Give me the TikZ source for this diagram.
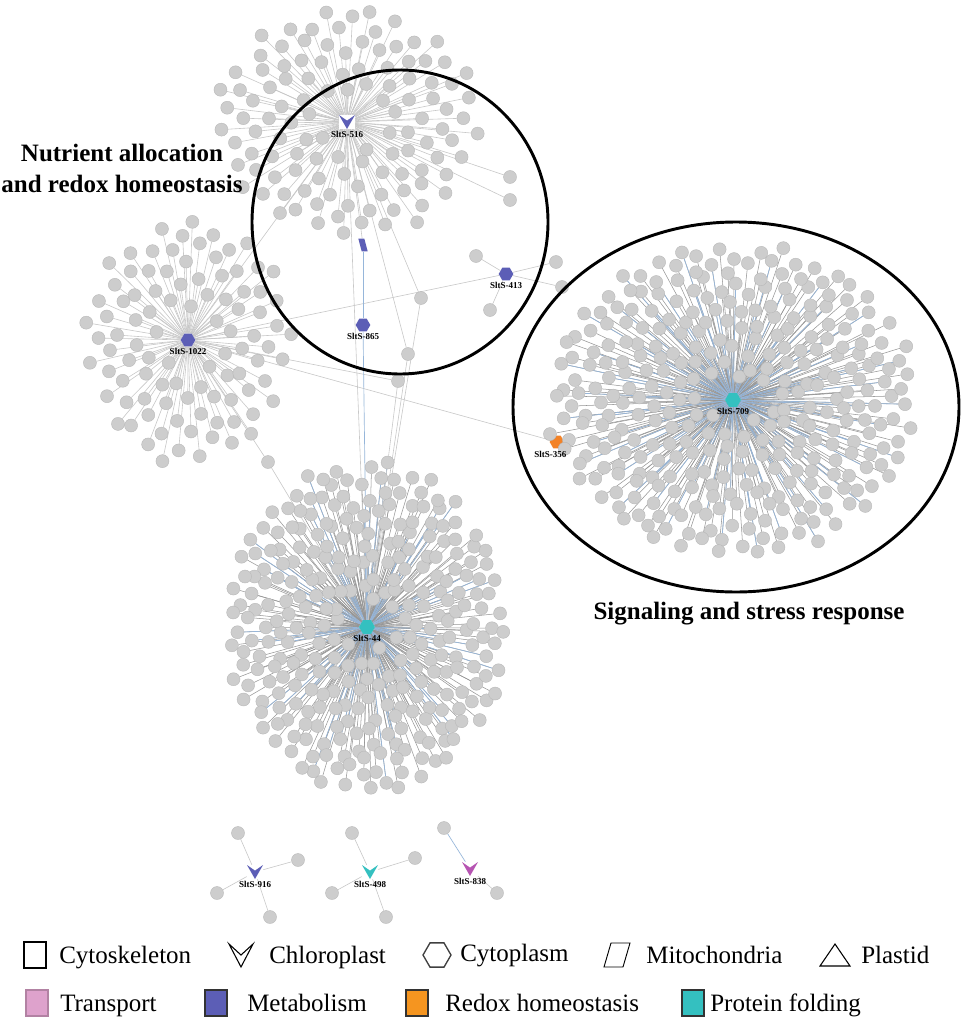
\documentclass[tikz,border=0pt]{standalone}
\usepackage{fontspec}
\setmainfont{Liberation Serif}
\usetikzlibrary{shapes.geometric,positioning,calc,backgrounds}

\definecolor{gnodefill}{RGB}{205,205,205}
\definecolor{gnodeline}{RGB}{184,184,184}
\definecolor{linkgray}{RGB}{200,200,200}
\definecolor{linkdark}{RGB}{150,150,150}
\definecolor{linkblue}{RGB}{150,182,218}
\definecolor{metab}{RGB}{92,94,182}
\definecolor{redox}{RGB}{243,130,38}
\definecolor{fold}{RGB}{52,192,192}
\definecolor{transp}{RGB}{222,162,204}
\definecolor{transhub}{RGB}{182,84,178}

\begin{document}
\begin{tikzpicture}[x=0.75pt, y=-0.75pt,
    gnode/.style={circle, fill=gnodefill, draw=gnodeline, line width=0.3pt, inner sep=0pt, minimum size=9.75pt},
    link/.style={draw=linkgray, line width=0.45pt},
    darklink/.style={draw=linkdark, line width=0.4pt},
    bluelink/.style={draw=linkblue, line width=0.5pt},
    hexhub/.style={regular polygon, regular polygon sides=6, fill=#1, inner sep=0pt, minimum size=11pt},
    chev/.style={minimum width=12pt, minimum height=10.5pt, inner sep=0pt,
      path picture={\fill[#1] (path picture bounding box.north west) -- (path picture bounding box.south)
        -- (path picture bounding box.north east) -- ($(path picture bounding box.north)!0.4!(path picture bounding box.south)$) -- cycle;}},
    paral/.style={minimum width=7pt, minimum height=9.5pt, inner sep=0pt,
      path picture={\fill[#1] (path picture bounding box.north west) -- ($(path picture bounding box.north)+(1pt,0pt)$)
        -- (path picture bounding box.south east) -- ($(path picture bounding box.south)-(1pt,0pt)$) -- cycle;}},
    hublabel/.style={font=\fontsize{6.75}{7}\selectfont\bfseries, inner sep=0.5pt},
    ring/.style={draw=black, line width=2.2pt},
    grouplabel/.style={font=\fontsize{18.75}{23.25}\selectfont\bfseries, align=center},
    legtext/.style={font=\fontsize{18.75}{20}\selectfont, anchor=base west, inner sep=0pt}]
\useasboundingbox (0,0) rectangle (964,1027);
\pgfmathsetseed{17}

% Hubs
\node[chev=metab] (s516) at (347,122) {};
\node[hexhub=metab] (s1022) at (188,340) {};
\node[hexhub=metab] (s413) at (506,274) {};
\node[paral=metab] (mito) at (363,245) {};
\node[hexhub=metab] (s865) at (363,325) {};
\node[hexhub=redox] (s356) at (557,442) {};
\node[hexhub=fold, minimum size=12pt] (s709) at (733,400) {};
\node[hexhub=fold, minimum size=12pt] (s44) at (367,627) {};
\node[chev=metab] (s916) at (255,872) {};
\node[chev=fold] (s498) at (370,872) {};
\node[chev=transhub] (s838) at (470,869) {};

% Clusters
\foreach \i in {1,...,115}{
  \pgfmathsetmacro\ang{360*(\i*0.381966-floor(\i*0.381966))}
  \pgfmathsetmacro\f{sqrt((\i+6)/121)}
  \node[gnode] (a\i) at ($(s516)+({132*\f*cos(\ang)+3*rand},{116*\f*sin(\ang)+3*rand})$) {};
}
\foreach \i in {1,...,95}{
  \pgfmathsetmacro\ang{360*(\i*0.381966-floor(\i*0.381966))}
  \pgfmathsetmacro\f{sqrt((\i+6)/101)}
  \node[gnode] (b\i) at ($(s1022)+({104*\f*cos(\ang)+3*rand},{122*\f*sin(\ang)+3*rand})$) {};
}
\foreach \i in {1,...,320}{
  \pgfmathsetmacro\ang{360*(\i*0.381966-floor(\i*0.381966))}
  \pgfmathsetmacro\f{sqrt((\i+8)/328)}
  \node[gnode] (c\i) at ($(s709)+({184*\f*cos(\ang)+4*rand},{156*\f*sin(\ang)+4*rand})$) {};
}
\foreach \i in {1,...,300}{
  \pgfmathsetmacro\ang{360*(\i*0.381966-floor(\i*0.381966))}
  \pgfmathsetmacro\f{sqrt((\i+8)/308)}
  \node[gnode] (d\i) at ($(s44)+({140*\f*cos(\ang)+4*rand},{165*\f*sin(\ang)+4*rand})$) {};
}

% Single partners
\node[gnode] (e1) at (510,177) {};
\node[gnode] (e2) at (510,200) {};
\node[gnode] (e3) at (476,256) {};
\node[gnode] (e4) at (556,262) {};
\node[gnode] (e5) at (562,287) {};
\node[gnode] (e6) at (490,310) {};
\node[gnode] (e7) at (421,298) {};
\node[gnode] (e8) at (408,354) {};
\node[gnode] (e9) at (398,381) {};
\node[gnode] (e10) at (268,462) {};
\node[gnode] (f1) at (238,833) {};
\node[gnode] (f2) at (298,860) {};
\node[gnode] (f3) at (217,893) {};
\node[gnode] (f4) at (270,917) {};
\node[gnode] (g1) at (352,833) {};
\node[gnode] (g2) at (415,858) {};
\node[gnode] (g3) at (332,893) {};
\node[gnode] (g4) at (386,917) {};
\node[gnode] (h1) at (444,828) {};
\node[gnode] (h2) at (497,893) {};

% Hub labels
\node[hublabel, below=0.5pt of s516] (l516) {SltS-516};
\node[hublabel, below=0.5pt of s1022] (l1022) {SltS-1022};
\node[hublabel, below=0.5pt of s413] (l413) {SltS-413};
\node[hublabel, below=0.5pt of s865] (l865) {SltS-865};
\node[hublabel, below=1pt of s356, xshift=-5pt] (l356) {SltS-356};
\node[hublabel, below=0pt of s709] (l709) {SltS-709};
\node[hublabel, below=0pt of s44] (l44) {SltS-44};
\node[hublabel, below=0.5pt of s916] (l916) {SltS-916};
\node[hublabel, below=0.5pt of s498] (l498) {SltS-498};
\node[hublabel, below=0.5pt of s838] (l838) {SltS-838};

% Edges
\begin{pgfonlayer}{background}
  \fill[white] (0,0) rectangle (964,1027);
  \foreach \i in {1,...,115} \draw[link] (s516) -- (a\i);
  \foreach \i in {1,...,95} \draw[link] (s1022) -- (b\i);
  \foreach \i in {1,...,320} \draw[darklink] (s709) -- (c\i);
  \foreach \i in {4,8,...,320} \draw[bluelink] (s709) -- (c\i);
  \foreach \i in {1,...,300} \draw[darklink] (s44) -- (d\i);
  \foreach \i in {5,10,...,300} \draw[bluelink] (s44) -- (d\i);
  \draw[link] (s516) -- (e1);
  \draw[link] (s516) -- (e2);
  \foreach \j in {e3,e4,e5,e6} \draw[link] (s413) -- (\j);
  \draw[link] (s1022) -- (s413);
  \draw[link] (s1022) -- (s356);
  \draw[link] (s1022) -- (s516);
  \draw[link] (s516) -- (e7);
  \draw[link] (e7) -- (s44);
  \draw[link] (s516) -- (e8);
  \draw[link] (e8) -- (s44);
  \draw[link] (s1022) -- (e9);
  \draw[link] (e9) -- (s44);
  \draw[link] (s1022) -- (e10);
  \draw[link] (e10) -- (s44);
  \draw[link] (s516) -- (s44);
  \draw[link] (s516) -- (mito);
  \draw[bluelink] (mito) -- (s865);
  \draw[bluelink] (s865) -- (s44);
  \foreach \j in {f1,f2,f3,f4} \draw[link] (s916) -- (\j);
  \foreach \j in {g1,g2,g3,g4} \draw[link] (s498) -- (\j);
  \draw[bluelink] (s838) -- (h1);
  \draw[link] (s838) -- (h2);
\end{pgfonlayer}

% Groups
\draw[ring] (400,222) ellipse [x radius=148, y radius=152];
\draw[ring] (736,407) ellipse [x radius=223, y radius=185];
\node[grouplabel] (nutr) at (122,168) {Nutrient allocation\\and redox homeostasis};
\node[grouplabel] (sign) at (749,614) {Signaling and stress response};

% Legend
\node[draw, line width=1.5pt, minimum width=16.5pt, minimum height=19.5pt, inner sep=0pt] (kcyto) at (35,955) {};
\node[legtext] (tcyto) at (59,963) {Cytoskeleton};
\draw[line width=0.8pt, line join=miter] (229,944) -- (241,967) -- (253,944) -- (241,955) -- cycle;
\node[legtext] (tchlo) at (269,963) {Chloroplast};
\node[draw=black!75, line width=1pt, regular polygon, regular polygon sides=6, minimum size=21pt, inner sep=0pt] (kcyp) at (437,955) {};
\node[legtext] (tcyp) at (460,961) {Cytoplasm};
\draw[line width=0.7pt] (604,967) -- (611,943) -- (630,943) -- (623,967) -- cycle;
\node[legtext] (tmito) at (646,963) {Mitochondria};
\draw[line width=0.8pt, line join=miter] (820,966) -- (835,944) -- (850,966) -- cycle;
\node[legtext] (tplas) at (861,963) {Plastid};

\node[draw=transp!80!black, fill=transp, line width=1pt, minimum width=16.5pt, minimum height=19.5pt, inner sep=0pt] (ktrans) at (37,1003) {};
\node[legtext] (ttrans) at (60,1011) {Transport};
\node[draw=black!80, fill=metab, line width=1pt, minimum width=16.5pt, minimum height=19.5pt, inner sep=0pt] (kmetab) at (216,1003) {};
\node[legtext] (tmetab) at (247,1011) {Metabolism};
\node[draw=black!80, fill=redox!85!yellow, line width=1pt, minimum width=16.5pt, minimum height=19.5pt, inner sep=0pt] (kredox) at (417,1003) {};
\node[legtext] (tredox) at (445,1011) {Redox homeostasis};
\node[draw=black!80, fill=fold, line width=1pt, minimum width=16.5pt, minimum height=19.5pt, inner sep=0pt] (kfold) at (693,1003) {};
\node[legtext] (tfold) at (710,1011) {Protein folding};
\end{tikzpicture}
\end{document}
